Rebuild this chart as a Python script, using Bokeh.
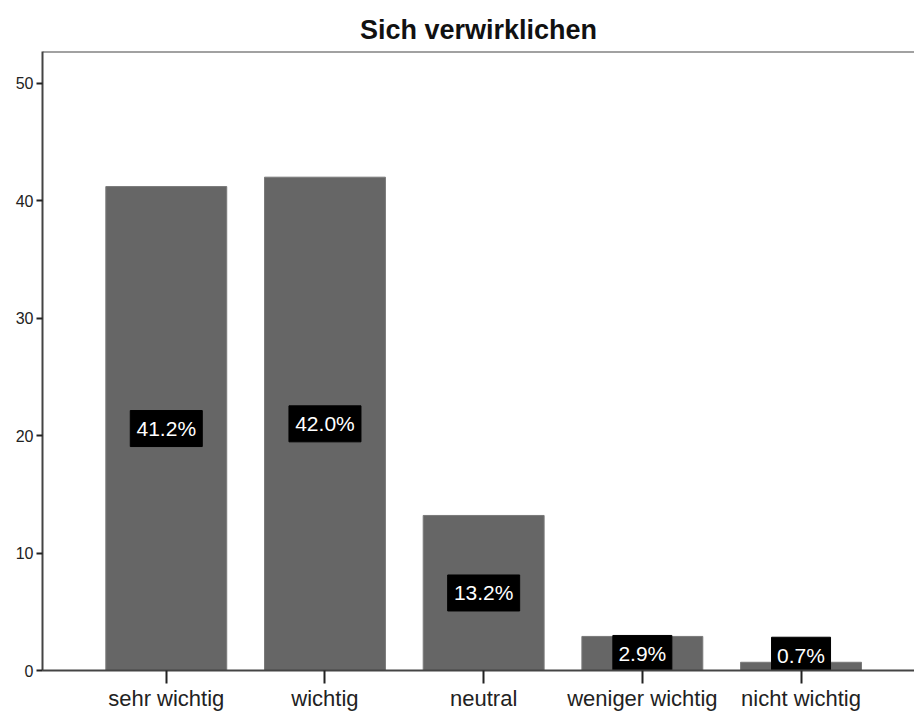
from bokeh.plotting import figure
from bokeh.models import Range1d, FixedTicker, Span, ColumnDataSource
from bokeh.core.properties import value
from bokeh.embed import file_html
from bokeh.resources import INLINE

categories = ["sehr wichtig", "wichtig", "neutral", "weniger wichtig", "nicht wichtig"]
percent = [41.2, 42.0, 13.2, 2.9, 0.7]
y_ticks = [0, 10, 20, 30, 40, 50]
y_max = 52.7

xs = list(range(1, len(categories) + 1))
labels = [f"{v:.1f}%" for v in percent]
label_y = [max(v / 2, 1.3) for v in percent]
box_w = [13 * len(t) + 7 for t in labels]

src = ColumnDataSource(dict(x=xs, top=percent, ly=label_y, lab=labels, bw=box_w))

p = figure(width=914, height=713, output_backend="svg", toolbar_location=None,
           x_range=Range1d(1 - 0.78, 5 + 0.715), y_range=Range1d(0, y_max),
           min_border_left=42, min_border_right=0, min_border_top=51, min_border_bottom=0)

p.title.text = "Sich verwirklichen"
p.title.align = "center"
p.title.text_font = "Liberation Sans"
p.title.text_font_size = "27px"
p.title.text_font_style = "bold"
p.title.text_color = "#111111"
p.title.standoff = 14

p.vbar(x="x", top="top", width=0.762, source=src, fill_color="#666666",
       line_color="#7a7a7a", line_width=1)

p.rect(x="x", y="ly", width="bw", height=36, width_units="screen", height_units="screen",
       source=src, fill_color="black", line_color="black")
p.text(x="x", y="ly", text="lab", source=src, text_color="white",
       text_font=value("Liberation Sans"), text_font_size="21px",
       text_align="center", text_baseline="middle")

p.grid.visible = False
p.outline_line_color = None
p.add_layout(Span(location=y_max, dimension="width", line_color="#444444", line_width=2))

p.xaxis.ticker = FixedTicker(ticks=xs)
p.xaxis.major_label_overrides = {x: c for x, c in zip(xs, categories)}
p.xaxis.major_tick_out = 13
p.xaxis.major_tick_in = 0
p.xaxis.minor_tick_line_color = None
p.xaxis.major_label_standoff = 2
p.xaxis.major_label_text_font = "Liberation Sans"
p.xaxis.major_label_text_font_size = "22px"
p.xaxis.major_label_text_color = "#222222"

p.yaxis.ticker = FixedTicker(ticks=y_ticks)
p.yaxis.major_tick_out = 6
p.yaxis.major_tick_in = 0
p.yaxis.minor_tick_line_color = None
p.yaxis.major_label_standoff = 3
p.yaxis.major_label_text_font = "Liberation Sans"
p.yaxis.major_label_text_font_size = "16px"
p.yaxis.major_label_text_color = "#222222"

for ax in (p.xaxis, p.yaxis):
    ax.axis_line_color = "#444444"
    ax.axis_line_width = 2
    ax.major_tick_line_color = "#222222"
    ax.major_tick_line_width = 2

open("out.html", "w").write(file_html(p, INLINE))
